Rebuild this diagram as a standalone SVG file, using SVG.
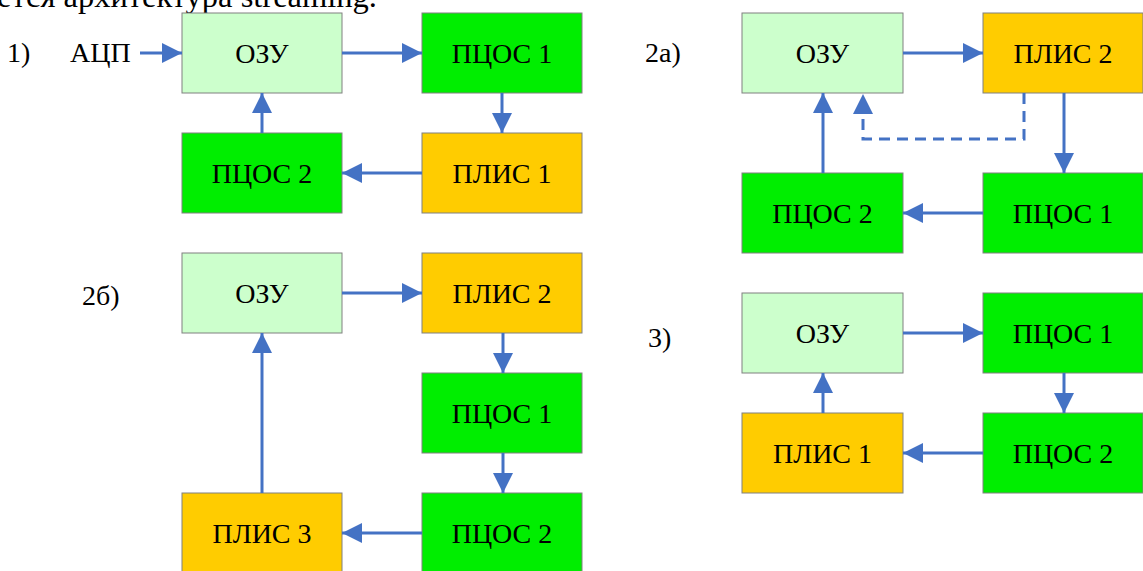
<svg xmlns="http://www.w3.org/2000/svg" width="1143" height="571" viewBox="0 0 1143 571">
<style>
.t{font-family:"Liberation Serif","Times New Roman",serif;font-size:28px;fill:#000}
.c{text-anchor:middle}
.b{stroke:#808080;stroke-width:1}
.ozu{fill:#CCFFCC}
.dsp{fill:#00EE00}
.fpga{fill:#FFCC00}
.ln{fill:none;stroke:#4472C4;stroke-width:3;marker-end:url(#ah)}
.dash{stroke-dasharray:11 7}
</style>
<defs>
<marker id="ah" markerUnits="userSpaceOnUse" markerWidth="20" markerHeight="20" refX="20" refY="10" orient="auto" viewBox="0 0 20 20">
<path d="M0,0 L20,10 L0,20 z" fill="#4472C4"/>
</marker>
</defs>
<rect width="1143" height="571" fill="#fff"/>
<text class="t" x="-3" y="7" style="font-size:32.5px">ется архитектура streaming.</text>
<g id="labels">
<text class="t" x="7" y="62">1)</text>
<text class="t" x="70" y="62">АЦП</text>
<text class="t" x="645" y="62">2а)</text>
<text class="t" x="82" y="305">2б)</text>
<text class="t" x="648" y="347">3)</text>
</g>
<!-- Diagram 1 -->
<g id="d1-ozu"><rect class="b ozu" x="182" y="13" width="160" height="80"/><text class="t c" x="262" y="62.5">ОЗУ</text></g>
<g id="d1-dsp1"><rect class="b dsp" x="422" y="13" width="160" height="80"/><text class="t c" x="502" y="62.5">ПЦОС 1</text></g>
<g id="d1-fpga1"><rect class="b fpga" x="422" y="133" width="160" height="80"/><text class="t c" x="502" y="182.5">ПЛИС 1</text></g>
<g id="d1-dsp2"><rect class="b dsp" x="182" y="133" width="160" height="80"/><text class="t c" x="262" y="182.5">ПЦОС 2</text></g>
<!-- Diagram 2a -->
<g id="d2a-ozu"><rect class="b ozu" x="742" y="13" width="161" height="80"/><text class="t c" x="822.5" y="62.5">ОЗУ</text></g>
<g id="d2a-fpga2"><rect class="b fpga" x="983" y="13" width="160" height="80"/><text class="t c" x="1063" y="62.5">ПЛИС 2</text></g>
<g id="d2a-dsp1"><rect class="b dsp" x="983" y="173" width="160" height="80"/><text class="t c" x="1063" y="222.5">ПЦОС 1</text></g>
<g id="d2a-dsp2"><rect class="b dsp" x="742" y="173" width="161" height="80"/><text class="t c" x="822.5" y="222.5">ПЦОС 2</text></g>
<!-- Diagram 2b -->
<g id="d2b-ozu"><rect class="b ozu" x="182" y="253" width="160" height="80"/><text class="t c" x="262" y="302.5">ОЗУ</text></g>
<g id="d2b-fpga2"><rect class="b fpga" x="422" y="253" width="160" height="80"/><text class="t c" x="502" y="302.5">ПЛИС 2</text></g>
<g id="d2b-dsp1"><rect class="b dsp" x="422" y="373" width="160" height="80"/><text class="t c" x="502" y="422.5">ПЦОС 1</text></g>
<g id="d2b-dsp2"><rect class="b dsp" x="422" y="493" width="160" height="80"/><text class="t c" x="502" y="542.5">ПЦОС 2</text></g>
<g id="d2b-fpga3"><rect class="b fpga" x="182" y="493" width="160" height="80"/><text class="t c" x="262" y="542.5">ПЛИС 3</text></g>
<!-- Diagram 3 -->
<g id="d3-ozu"><rect class="b ozu" x="742" y="293" width="161" height="80"/><text class="t c" x="822.5" y="342.5">ОЗУ</text></g>
<g id="d3-dsp1"><rect class="b dsp" x="983" y="293" width="160" height="80"/><text class="t c" x="1063" y="342.5">ПЦОС 1</text></g>
<g id="d3-dsp2"><rect class="b dsp" x="983" y="413" width="160" height="80"/><text class="t c" x="1063" y="462.5">ПЦОС 2</text></g>
<g id="d3-fpga1"><rect class="b fpga" x="742" y="413" width="161" height="80"/><text class="t c" x="822.5" y="462.5">ПЛИС 1</text></g>
<g id="connectors">
<path class="ln" d="M140,53 H182"/>
<path class="ln" d="M342,53 H422"/>
<path class="ln" d="M502,93 V133"/>
<path class="ln" d="M422,173 H342"/>
<path class="ln" d="M262,133 V93"/>
<path class="ln" d="M903,53 H983"/>
<path class="ln" d="M1064,93 V173"/>
<path class="ln" d="M983,213 H903"/>
<path class="ln" d="M823,173 V93"/>
<path class="ln dash" d="M1024,93 V139 H863 V94"/>
<path class="ln" d="M342,293 H422"/>
<path class="ln" d="M503,333 V373"/>
<path class="ln" d="M503,453 V493"/>
<path class="ln" d="M422,533 H342"/>
<path class="ln" d="M262,493 V333"/>
<path class="ln" d="M903,333 H983"/>
<path class="ln" d="M1064,373 V413"/>
<path class="ln" d="M983,453 H903"/>
<path class="ln" d="M823,413 V373"/>
</g>
</svg>
